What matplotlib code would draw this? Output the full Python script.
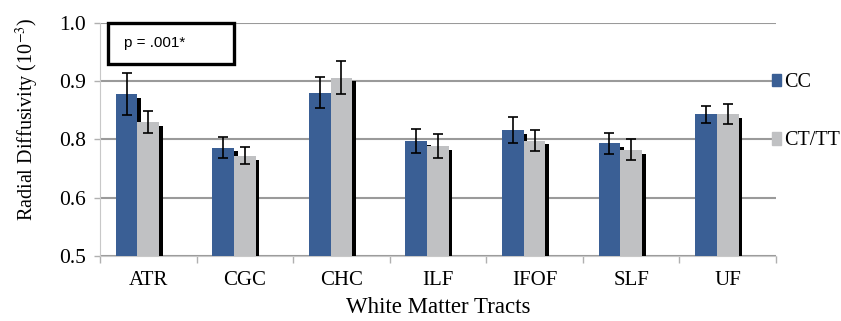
import numpy as np
import matplotlib.pyplot as plt
import matplotlib.patheffects as pe
from matplotlib.patches import Patch, Rectangle

# data
tracts = ['ATR', 'CGC', 'CHC', 'ILF', 'IFOF', 'SLF', 'UF']
cc_mean = [0.877, 0.786, 0.880, 0.797, 0.816, 0.793, 0.843]
cc_err = [0.036, 0.018, 0.027, 0.021, 0.023, 0.018, 0.015]
ct_mean = [0.830, 0.772, 0.906, 0.789, 0.798, 0.782, 0.844]
ct_err = [0.019, 0.015, 0.029, 0.021, 0.018, 0.018, 0.017]
ytick_vals = [0.6, 0.7, 0.8, 0.9, 1.0]
ytick_labels = ['0.5', '0.6', '0.8', '0.9', '1.0']

BLUE = '#3a5f95'
GREY = '#c0c1c3'

plt.rcParams['font.family'] = ['Liberation Serif', 'DejaVu Serif']
plt.rcParams['mathtext.fontset'] = 'stix'

fig = plt.figure(figsize=(8.41, 3.21), dpi=100)
ax = fig.add_axes([100/841, 1-256/321, 676/841, (256-22.7)/321])

x = np.arange(len(tracts))
w = 0.225
shadow = [pe.SimplePatchShadow(offset=(2.6, -2.8), shadow_rgbFace='k', alpha=1.0), pe.Normal()]

b1 = ax.bar(x - w, np.array(cc_mean) - 0.6, w, bottom=0.6, color=BLUE, zorder=3)
for r in b1:
    r.set_path_effects(shadow)
ax.errorbar(x - w, cc_mean, yerr=cc_err, fmt='none', ecolor='k', elinewidth=1.2,
            capsize=3.5, capthick=1.2, zorder=6)
b2 = ax.bar(x, np.array(ct_mean) - 0.6, w, bottom=0.6, color=GREY, zorder=4)
for r in b2:
    r.set_path_effects(shadow)
ax.errorbar(x, ct_mean, yerr=ct_err, fmt='none', ecolor='k', elinewidth=1.2,
            capsize=3.5, capthick=1.2, zorder=6)

ax.set_xlim(-0.5, len(tracts) - 0.5)
ax.set_ylim(0.6, 1.0)
ax.set_yticks(ytick_vals)
ax.set_yticklabels(ytick_labels, fontsize=15.5)
ax.set_xticks(x)
ax.set_xticklabels(tracts, fontsize=15)
ax.tick_params(axis='x', length=0, pad=11)
ax.set_xticks(np.arange(len(tracts) + 1) - 0.5, minor=True)
ax.tick_params(axis='x', which='minor', length=5, color='#b0b0b0', width=1)
ax.tick_params(axis='y', length=4, color='#b0b0b0', width=1, pad=6)
ax.yaxis.grid(True, color='#9a9a9a', linewidth=1.5, zorder=0)
ax.set_axisbelow(True)
for s in ['top', 'right']:
    ax.spines[s].set_visible(False)
ax.spines['left'].set_color('#c8c8c8')
ax.spines['bottom'].set_color('#c8c8c8')
ax.spines['bottom'].set_zorder(1)

ax.set_ylabel('Radial Diffusivity (10$^{-3}$)', fontsize=14.5)
ax.yaxis.set_label_coords(-0.087, 0.585)
ax.set_xlabel('White Matter Tracts', fontsize=16.5, labelpad=5)

# p-value box
ax.add_patch(Rectangle((0.012, 0.823), 0.186, 0.177, transform=ax.transAxes,
                       fill=False, edgecolor='k', linewidth=2.4, clip_on=False, zorder=7))
ax.text(0.036, 0.912, 'p = .001*', transform=ax.transAxes, fontsize=11,
        family='Liberation Sans', va='center', ha='left', zorder=8)

handles = [Patch(color=BLUE, label='CC'), Patch(color=GREY, label='CT/TT')]
fig.legend(handles=handles, loc='upper left', bbox_to_anchor=(772/841, 1-73/321),
           frameon=False, fontsize=14.5, handlelength=0.45, handleheight=0.6,
           handletextpad=0.15, labelspacing=1.95, borderpad=0, borderaxespad=0)

fig.savefig('out.png', dpi=100)
